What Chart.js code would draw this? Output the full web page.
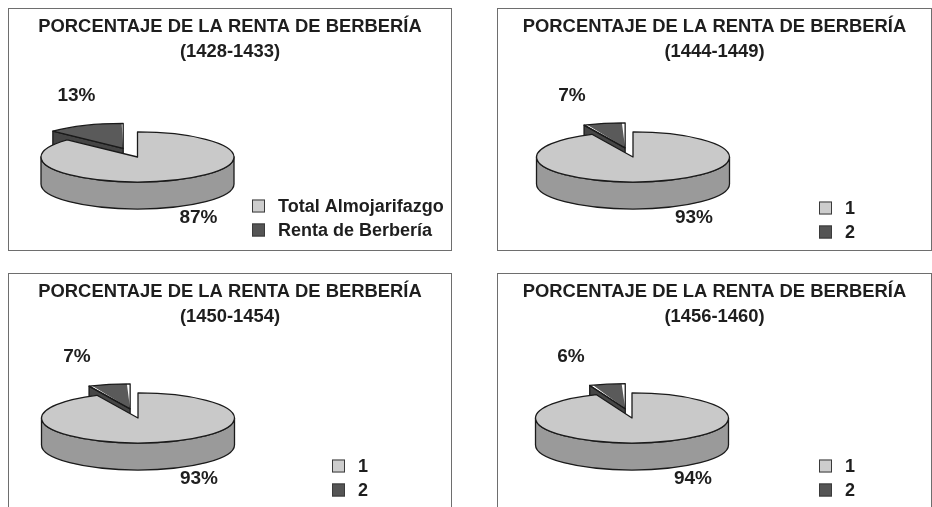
<!DOCTYPE html>
<html>
<head>
<meta charset="utf-8">
<script src="https://cdn.jsdelivr.net/npm/chart.js@4.4.1/dist/chart.umd.min.js"></script>
<style>
  html, body { margin: 0; padding: 0; background: #fff; }
  body { width: 932px; height: 507px; overflow: hidden; position: relative; }
  .panel { position: absolute; border: 1px solid #6e6e6e; box-sizing: border-box; background: #fff; }
  .panel canvas { display: block; }
</style>
</head>
<body>
<div class="panel" style="left:8px;top:8px;width:444px;height:243px"><canvas id="c0" width="442" height="241"></canvas></div>
<div class="panel" style="left:497px;top:8px;width:435px;height:243px"><canvas id="c1" width="433" height="241"></canvas></div>
<div class="panel" style="left:8px;top:273px;width:444px;height:245px"><canvas id="c2" width="442" height="243"></canvas></div>
<div class="panel" style="left:497px;top:273px;width:435px;height:245px"><canvas id="c3" width="433" height="243"></canvas></div>

<script>
// datos de cada grafico
const chartTitle = 'PORCENTAJE DE LA RENTA DE BERBERÍA';
const periods = ['(1428-1433)', '(1444-1449)', '(1450-1454)', '(1456-1460)'];
const legendLabels = [
  ['Total Almojarifazgo', 'Renta de Berbería'],
  ['1', '2'],
  ['1', '2'],
  ['1', '2']
];
const almojarifazgo = [87, 93, 93, 94];
const rentaBerberia = [13, 7, 7, 6];

// colores y posiciones (aparte de los datos)
const topColors = ['#c9c9c9', '#5a5a5a'];
const sideColors = ['#9a9a9a', '#454545'];
const legendColors = ['#cdcdcd', '#555555'];
const edgeColor = '#1a1a1a';
const textColor = '#1e1e1e';
const fontFamily = "'Liberation Sans', Arial, Helvetica, sans-serif";

const panelLayout = [
  { cx: 128.5, cy: 148, legendX: 243, legendY: 197 },
  { cx: 135,   cy: 148, legendX: 321, legendY: 199 },
  { cx: 129,   cy: 144, legendX: 323, legendY: 192 },
  { cx: 134,   cy: 144, legendX: 321, legendY: 192 }
];
const pieRadius = 96.5;
const tilt = 0.26;
const depth = 27;
const explode = 36;   // desplazamiento de la porcion separada

// geometria en pantalla de una porcion (elipse aplanada)
function sliceGeom(el, opts, R) {
  const h = (el.startAngle + el.endAngle) / 2;
  const d = (el.options.offset || 0) / 4;
  return {
    x: opts.cx + Math.cos(h) * d,
    y: opts.cy + Math.sin(h) * d * opts.tilt,
    rx: R,
    ry: R * opts.tilt
  };
}

function drawCut(ctx, g, ang, dep) {
  const px = g.x + g.rx * Math.cos(ang);
  const py = g.y + g.ry * Math.sin(ang);
  ctx.beginPath();
  ctx.moveTo(g.x, g.y);
  ctx.lineTo(px, py);
  ctx.lineTo(px, py + dep);
  ctx.lineTo(g.x, g.y + dep);
  ctx.closePath();
  ctx.fill();
  ctx.stroke();
}

const pie3d = {
  id: 'pie3d',
  beforeDatasetsDraw(chart, args, opts) {
    const ctx = chart.ctx;
    const meta = chart.getDatasetMeta(0);
    const R = meta.controller.outerRadius;
    const arcs = meta.data;

    // Chart.js agranda el radio de la porcion separada; se compensa aqui
    arcs.forEach(el => {
      const off = (el.options.offset || 0) / 4;
      const fix = 1 - Math.sin(Math.min(Math.PI, el.circumference));
      el.outerRadius = R - off * fix;
    });

    // paredes laterales
    ctx.save();
    ctx.strokeStyle = edgeColor;
    ctx.lineWidth = 1.3;
    ctx.lineJoin = 'round';
    arcs.forEach((el, i) => {
      const g = sliceGeom(el, opts, R);
      ctx.fillStyle = opts.sideColors[i];
      if (Math.cos(el.startAngle) < -0.01) drawCut(ctx, g, el.startAngle, opts.depth);
      if (Math.cos(el.endAngle) > 0.01) drawCut(ctx, g, el.endAngle, opts.depth);
      // pared exterior visible (entre 0 y PI)
      for (let k = -1; k <= 1; k++) {
        const a0 = Math.max(el.startAngle, 2 * Math.PI * k);
        const a1 = Math.min(el.endAngle, 2 * Math.PI * k + Math.PI);
        if (a1 - a0 > 0.001) {
          ctx.beginPath();
          ctx.ellipse(g.x, g.y, g.rx, g.ry, 0, a0, a1);
          ctx.ellipse(g.x, g.y + opts.depth, g.rx, g.ry, 0, a1, a0, true);
          ctx.closePath();
          ctx.fill();
          ctx.stroke();
        }
      }
    });
    ctx.restore();

    // la tapa la dibuja Chart.js, aplanada
    const c = arcs[0];
    ctx.save();
    ctx.translate(opts.cx, opts.cy);
    ctx.scale(1, opts.tilt);
    ctx.translate(-c.x, -c.y);
  },
  afterDatasetsDraw(chart, args, opts) {
    const ctx = chart.ctx;
    ctx.restore();
    const meta = chart.getDatasetMeta(0);
    const R = meta.controller.outerRadius;
    const values = chart.data.datasets[0].data;

    ctx.save();
    ctx.strokeStyle = edgeColor;
    ctx.lineWidth = 1.3;
    ctx.lineJoin = 'round';
    meta.data.forEach(el => {
      const g = sliceGeom(el, opts, R);
      ctx.beginPath();
      ctx.moveTo(g.x, g.y);
      ctx.ellipse(g.x, g.y, g.rx, g.ry, 0, el.startAngle, el.endAngle);
      ctx.closePath();
      ctx.stroke();
    });

    // etiquetas de porcentaje
    ctx.fillStyle = textColor;
    ctx.font = 'bold 19px ' + fontFamily;
    ctx.textAlign = 'center';
    ctx.textBaseline = 'middle';
    meta.data.forEach((el, i) => {
      const h = (el.startAngle + el.endAngle) / 2;
      const x = opts.cx + Math.sign(Math.cos(h)) * opts.labelDX;
      const y = opts.cy + Math.sign(Math.sin(h)) * opts.labelDY;
      ctx.fillText(values[i] + '%', x, y);
    });
    ctx.restore();
  }
};

// leyenda en la esquina inferior derecha
const cornerLegend = {
  id: 'cornerLegend',
  afterDraw(chart, args, opts) {
    const ctx = chart.ctx;
    ctx.save();
    ctx.font = 'bold 18px ' + fontFamily;
    ctx.textBaseline = 'middle';
    ctx.textAlign = 'left';
    chart.data.labels.forEach((label, i) => {
      const y = opts.y + i * opts.gap;
      ctx.fillStyle = opts.colors[i];
      ctx.fillRect(opts.x, y - 6.5, 13, 13);
      ctx.strokeStyle = '#3a3a3a';
      ctx.lineWidth = 1;
      ctx.strokeRect(opts.x + 0.5, y - 6, 12, 12);
      ctx.fillStyle = textColor;
      ctx.fillText(label, opts.x + 26, y + 1);
    });
    ctx.restore();
  }
};

function makeChart(i) {
  const lay = panelLayout[i];
  new Chart(document.getElementById('c' + i), {
    type: 'pie',
    data: {
      labels: legendLabels[i],
      datasets: [{
        data: [almojarifazgo[i], rentaBerberia[i]],
        backgroundColor: topColors,
        borderWidth: 0,
        radius: pieRadius,
        clip: false,
        offset: ctx => ctx.dataIndex === 1 ? explode * 4 : 0
      }]
    },
    options: {
      responsive: false,
      animation: false,
      events: [],
      layout: { padding: 0 },
      plugins: {
        title: {
          display: true,
          text: [chartTitle, periods[i]],
          color: textColor,
          font: { family: fontFamily, size: 18.4, weight: 'bold', lineHeight: 1.36 },
          padding: { top: 5, bottom: 4 }
        },
        legend: { display: false },
        tooltip: { enabled: false },
        pie3d: {
          cx: lay.cx, cy: lay.cy, tilt: tilt, depth: depth,
          sideColors: sideColors, labelDX: 61, labelDY: 61
        },
        cornerLegend: { x: lay.legendX, y: lay.legendY, gap: 24, colors: legendColors }
      }
    },
    plugins: [pie3d, cornerLegend]
  });
}

for (let i = 0; i < 4; i++) makeChart(i);
</script>
</body>
</html>
